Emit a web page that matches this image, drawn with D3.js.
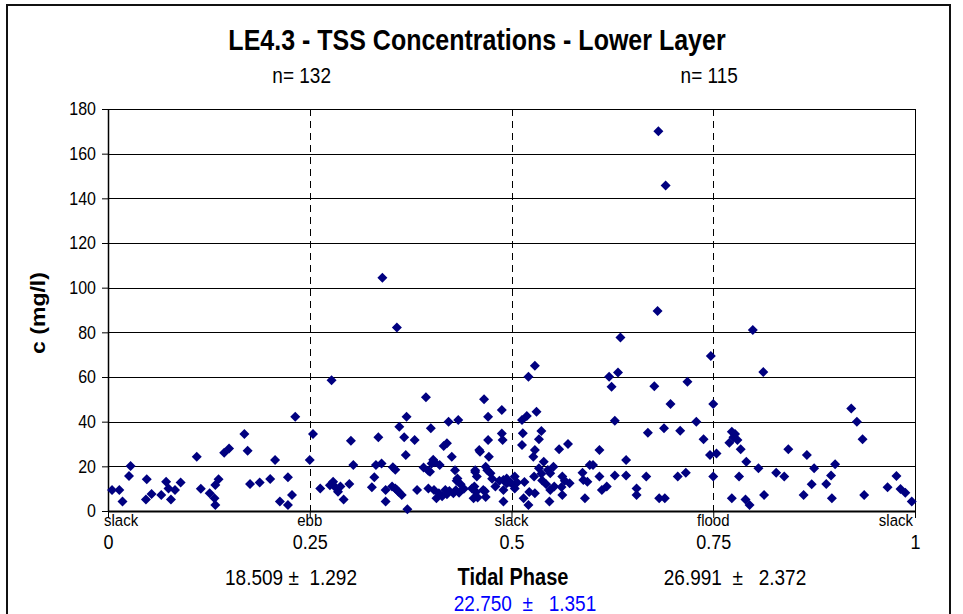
<!DOCTYPE html>
<html>
<head>
<meta charset="utf-8">
<script src="https://cdn.jsdelivr.net/npm/d3@7"></script>
<style>
  body { margin: 0; background: #fff; }
  text { font-family: Arial, "Liberation Sans", sans-serif; white-space: pre; }
</style>
</head>
<body>
<svg id="chart" width="963" height="614"></svg>
<script>
// ebb half of the cycle (phase 0 - 0.5), [phase, TSS mg/l]
let ebbData = [
  [0.005,9.4],[0.014,9.4],[0.018,4.2],[0.026,15.7],[0.028,20.1],[0.048,14.2],[0.047,5.2],[0.054,7.6],[0.066,7.2],[0.072,13.1],
  [0.075,10.1],[0.078,5.2],[0.083,9.4],[0.090,12.8],[0.110,24.3],[0.115,10.0],[0.126,7.9],[0.133,11.6],[0.137,14.2],[0.132,5.7],
  [0.133,2.7],[0.144,26.1],[0.150,28.0],[0.169,34.5],[0.173,27.0],[0.176,12.1],[0.188,12.8],[0.201,14.3],[0.207,22.8],[0.213,4.2],
  [0.223,15.1],[0.223,2.7],[0.228,7.2],[0.232,42.2],[0.250,22.8],
  [0.277,58.6],[0.254,34.5],[0.263,10.1],[0.279,13.1],[0.281,10.9],[0.275,11.5],[0.288,11.0],[0.292,5.2],[0.299,12.1],[0.301,31.5],
  [0.304,20.6],[0.327,10.6],[0.330,15.1],[0.332,20.6],[0.335,33.0],[0.339,21.3],[0.344,9.4],[0.344,4.2],[0.353,19.6],[0.356,18.5],
  [0.358,9.4],[0.361,37.7],[0.364,7.2],[0.367,33.0],[0.370,42.2],[0.369,25.1],[0.371,0.8],[0.380,31.8],[0.383,9.4],[0.394,50.9],
  [0.397,10.1],[0.400,37.0],[0.401,21.3],[0.403,23.0],[0.399,17.6],[0.404,9.4],[0.407,5.7],[0.411,20.6],[0.416,29.1],[0.420,30.3],
  [0.418,9.4],[0.422,40.0],[0.426,24.3],[0.428,7.9],[0.430,18.3],[0.434,40.7],[0.432,13.5],[0.435,8.2],[0.437,12.0],[0.451,10.1],
  [0.453,5.7],[0.455,18.3],[0.457,15.4],[0.460,27.3],[0.461,26.5],[0.465,9.4],[0.466,50.0],[0.470,18.3],[0.471,42.2],[0.471,31.8],
  [0.472,24.3],[0.474,16.9],[0.476,14.4],[0.480,11.0],[0.488,45.2],[0.488,34.7],[0.489,31.8],[0.490,9.4],[0.490,4.2],[0.494,14.6],
  [0.490,13.9],[0.494,12.4],[0.340,104.4],[0.358,82.2],
  [0.352,11.0],[0.405,21.8],[0.397,18.0],[0.410,8.0],[0.414,6.6],[0.420,7.5],[0.423,9.0],[0.433,14.5],[0.431,9.3],[0.456,8.5],
  [0.458,6.0],[0.454,11.0],[0.455,17.5],[0.467,8.8],[0.468,6.3],[0.468,19.8],[0.497,13.0],[0.485,13.5],[0.285,8.6],[0.360,8.6],
  [0.356,10.1],[0.441,10.0],[0.391,19.5]
];

// flood half (phase 0.5 - 1)
let floodData = [
  [0.500,12.4],[0.504,15.4],[0.504,10.1],[0.513,40.7],[0.514,34.8],[0.513,29.5],[0.515,5.7],[0.519,42.5],[0.521,2.7],[0.527,24.3],
  [0.529,27.3],[0.528,15.4],[0.529,7.9],[0.531,44.4],[0.534,32.1],[0.537,35.8],[0.534,19.1],[0.537,16.7],[0.538,13.7],[0.548,16.9],
  [0.548,9.4],[0.547,4.2],[0.552,19.8],[0.553,11.0],[0.559,27.6],[0.563,15.4],[0.563,7.2],[0.570,30.0],[0.572,12.4],[0.588,17.1],
  [0.591,5.7],[0.594,13.1],[0.597,20.6],[0.601,20.6],[0.609,27.3],[0.609,15.4],[0.612,9.4],[0.618,11.0],[0.624,55.6],[0.628,40.4],
  [0.628,15.9],[0.642,22.8],[0.642,15.9],[0.655,10.1],[0.655,7.2],[0.667,15.4],[0.669,35.0],[0.677,55.9],[0.683,5.7],[0.690,5.7],
  [0.689,37.0],[0.697,47.9],[0.706,15.4],[0.709,35.9],[0.716,17.1],[0.718,57.9],[0.729,40.0],[0.738,32.1],
  [0.750,47.9],[0.746,25.1],[0.754,25.8],[0.750,15.4],[0.773,35.5],[0.770,30.6],[0.775,33.0],[0.780,31.8],[0.773,5.7],[0.784,27.7],
  [0.791,22.1],[0.782,15.4],[0.790,5.2],[0.795,2.7],[0.806,19.1],[0.813,7.2],[0.828,17.1],[0.838,15.4],[0.843,27.7],[0.862,7.2],
  [0.866,25.1],[0.875,19.1],[0.872,12.0],[0.890,12.1],[0.896,15.9],[0.901,20.9],[0.897,5.7],[0.921,45.9],[0.928,40.0],[0.935,32.1],
  [0.937,7.2],[0.966,10.6],[0.977,15.7],[0.982,9.9],[0.988,8.2],[0.996,4.2],
  [0.529,65.0],[0.521,60.1],[0.635,77.7],[0.681,89.5],[0.621,60.1],[0.632,62.0],[0.747,69.4],[0.682,170.0],[0.691,145.7],[0.799,81.0],
  [0.812,62.2],
  [0.545,18.4],[0.543,12.0],[0.566,13.6],[0.562,10.7],[0.507,12.8],[0.589,13.9],[0.522,8.5],[0.540,22.0],[0.777,34.5],[0.516,13.0]
];

let yTicks = [0, 20, 40, 60, 80, 100, 120, 140, 160, 180];
let phaseTicks = [0, 0.25, 0.5, 0.75, 1];
let phaseNames = ["slack", "ebb", "slack", "flood", "slack"];
let dividers = [0.25, 0.5, 0.75];

let title = "LE4.3 - TSS Concentrations - Lower Layer";
let countLabels = [["n= 132", 0.24], ["n= 115", 0.745]];
let ebbStat = "18.509 \u00b1  1.292";
let floodStat = "26.991  \u00b1   2.372";
let allStat = "22.750  \u00b1   1.351";

let svg = d3.select("#chart");
let stretch = 1.15;   // text in the original looks a bit tall

let x = d3.scaleLinear().domain([0, 1]).range([108, 915]);
let y = d3.scaleLinear().domain([0, 180]).range([511, 109]);

// outer frame
svg.append("rect")
    .attr("x", 7).attr("y", 5)
    .attr("width", 943).attr("height", 700)
    .attr("fill", "#fff")
    .attr("stroke", "#111")
    .attr("stroke-width", 2);

// horizontal gridlines
svg.append("g")
    .selectAll("line")
    .data(yTicks.filter(d => d > 0))
    .join("line")
    .attr("x1", x(0)).attr("x2", x(1))
    .attr("y1", d => Math.round(y(d)) + 0.5)
    .attr("y2", d => Math.round(y(d)) + 0.5)
    .attr("stroke", "#000");

// right edge of plot
svg.append("line")
    .attr("x1", x(1) + 0.5).attr("x2", x(1) + 0.5)
    .attr("y1", y(180)).attr("y2", y(0))
    .attr("stroke", "#000");

// tidal phase dividers
svg.append("g")
    .selectAll("line")
    .data(dividers)
    .join("line")
    .attr("x1", d => Math.round(x(d)) + 0.5)
    .attr("x2", d => Math.round(x(d)) + 0.5)
    .attr("y1", y(180)).attr("y2", y(0))
    .attr("stroke", "#000")
    .attr("stroke-dasharray", "7,5");

// y axis
let yAxisG = svg.append("g")
    .attr("transform", "translate(" + x(0) + ",0)")
    .call(d3.axisLeft(y).tickValues(yTicks).tickSize(6).tickSizeOuter(0).tickPadding(6));
yAxisG.select(".domain").attr("stroke", "#000").attr("stroke-width", 1.5);
yAxisG.selectAll(".tick line").attr("stroke", "#000");
yAxisG.selectAll(".tick text")
    .attr("font-size", 16)
    .attr("fill", "#000")
    .attr("transform", "scale(1," + stretch + ")");

// x axis
let xAxisG = svg.append("g")
    .attr("transform", "translate(0," + y(0) + ")")
    .call(d3.axisBottom(x).tickValues(phaseTicks).tickSize(7).tickSizeOuter(0)
      .tickFormat(d => String(d)));
xAxisG.select(".domain").attr("stroke", "#000").attr("stroke-width", 2);
xAxisG.selectAll(".tick line").attr("stroke", "#000");
xAxisG.selectAll(".tick text")
    .attr("y", 0).attr("dy", 0)
    .attr("font-size", 18)
    .attr("fill", "#000")
    .attr("transform", "translate(0,38) scale(1," + stretch + ")");

// phase names under the axis
svg.append("g")
    .selectAll("text")
    .data(phaseTicks)
    .join("text")
    .attr("text-anchor", (d, i) => i == 0 ? "start" : (i == phaseTicks.length - 1 ? "end" : "middle"))
    .attr("transform", (d, i) => {
      let px = x(d) + (i == 0 ? -4 : (i == phaseTicks.length - 1 ? -2 : 0));
      return "translate(" + px + ",526) scale(1," + stretch + ")";
    })
    .attr("font-size", 15)
    .text((d, i) => phaseNames[i]);

// points
let diamond = "M0,-5L5,0L0,5L-5,0Z";
let allPoints = ebbData.concat(floodData);
svg.append("g")
    .selectAll("path")
    .data(allPoints)
    .join("path")
    .attr("d", diamond)
    .attr("transform", d => "translate(" + x(d[0]) + "," + y(d[1]) + ")")
    .attr("fill", "#000080");

function label(txt, px, py, size, opts) {
  opts = opts || {};
  return svg.append("text")
      .attr("transform", "translate(" + px + "," + py + ") scale(1," + stretch + ")")
      .attr("text-anchor", "middle")
      .attr("font-size", size)
      .attr("font-weight", opts.bold ? "bold" : "normal")
      .attr("fill", opts.color || "#000")
      .text(txt);
}

label(title, 477, 50, 25, {bold: true});
countLabels.forEach(c => label(c[0], x(c[1]), 83, 19));

label(ebbStat, 291, 585, 19);
label("Tidal Phase", 513, 585, 20, {bold: true});
label(floodStat, 735, 585, 19);
label(allStat, 525, 611, 19, {color: "#0000ff"});

// y axis title
svg.append("text")
    .attr("transform", "translate(45,313) scale(1," + stretch + ") rotate(-90)")
    .attr("text-anchor", "middle")
    .attr("font-size", 20)
    .attr("font-weight", "bold")
    .text("c (mg/l)");
</script>
</body>
</html>
